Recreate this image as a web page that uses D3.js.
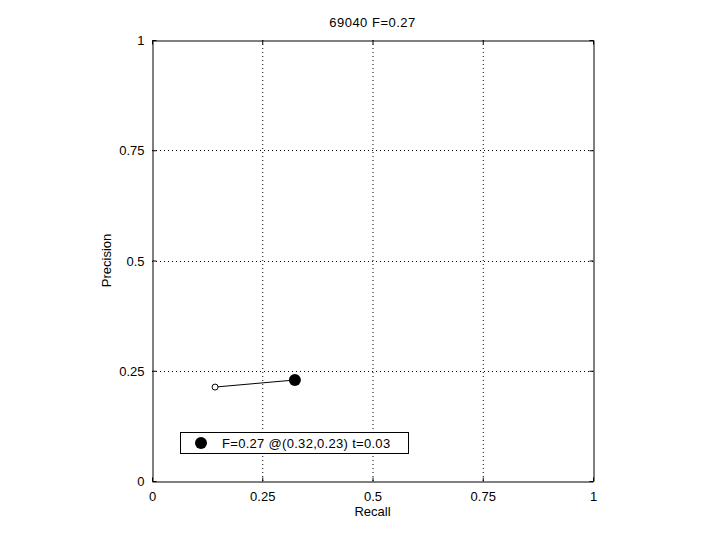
<!DOCTYPE html>
<html><head><meta charset="utf-8">
<script src="https://cdn.jsdelivr.net/npm/d3@7"></script>
<style>body{margin:0;background:#fff}text{font-family:"Liberation Sans",Arial,sans-serif;font-size:13px;fill:#000}</style>
</head><body><svg id="c" width="720" height="540"></svg>
<script>
const titleText = "69040 F=0.27";
const xLabel = "Recall", yLabel = "Precision";
const tickValues = [0, 0.25, 0.5, 0.75, 1];
const tickLabels = ["0", "0.25", "0.5", "0.75", "1"];
const curveRecall = [0.143, 0.324];
const curvePrecision = [0.213, 0.229];
const bestPoint = {r: 0.324, p: 0.229};
const legendText = "F=0.27 @(0.32,0.23) t=0.03";

const svg = d3.select("#c");
svg.append("rect").attr("width",720).attr("height",540).attr("fill","#fff");
const L=152, R=593, T=40, B=481;
const x = d3.scaleLinear().domain([0,1]).range([L,R]);
const y = d3.scaleLinear().domain([0,1]).range([B,T]);

// grid
const g = svg.append("g").attr("stroke","#000").attr("stroke-width",1).attr("stroke-dasharray","1,3");
tickValues.slice(1,-1).forEach(v=>{
  g.append("line").attr("x1",x(v)+0.5).attr("x2",x(v)+0.5).attr("y1",T).attr("y2",B);
  g.append("line").attr("y1",Math.round(y(v))+0.5).attr("y2",Math.round(y(v))+0.5).attr("x1",L).attr("x2",R);
});

// axes
const fmt = (d)=>tickLabels[tickValues.indexOf(d)];
const ax = svg.append("g").attr("transform",`translate(0,${B+0.5})`)
  .call(d3.axisBottom(x).tickValues(tickValues).tickFormat(fmt).tickSizeInner(-4).tickSizeOuter(0).tickPadding(10));
const ay = svg.append("g").attr("transform",`translate(${L+0.5},0)`)
  .call(d3.axisLeft(y).tickValues(tickValues).tickFormat(fmt).tickSizeInner(-4).tickSizeOuter(0).tickPadding(8));
const axTop = svg.append("g").attr("transform",`translate(0,${T+0.5})`)
  .call(d3.axisTop(x).tickValues(tickValues).tickFormat("").tickSizeInner(-4).tickSizeOuter(0));
const ayR = svg.append("g").attr("transform",`translate(${R+0.5},0)`)
  .call(d3.axisRight(y).tickValues(tickValues).tickFormat("").tickSizeInner(-4).tickSizeOuter(0));
[ax,ay,axTop,ayR].forEach(a=>{
  a.selectAll("path").attr("stroke","#000");
  a.selectAll("line").attr("stroke","#000");
  a.selectAll("text").style("font-size","13px").style("font-family","'Liberation Sans',Arial,sans-serif").attr("fill","#000");
});
ay.selectAll("text").attr("dy","0.35em");

// title and labels
svg.append("text").attr("x",(L+R)/2).attr("y",27).attr("text-anchor","middle").attr("letter-spacing","0.5").text(titleText);
svg.append("text").attr("x",(L+R)/2).attr("y",516).attr("text-anchor","middle").text(xLabel);
svg.append("text").attr("transform",`translate(111,${(T+B)/2}) rotate(-90)`).attr("text-anchor","middle").text(yLabel);

// curve
const line = d3.line().x(d=>x(d[0])).y(d=>y(d[1]));
const pts = curveRecall.map((r,i)=>[r,curvePrecision[i]]);
svg.append("path").attr("d",line(pts)).attr("fill","none").attr("stroke","#000").attr("stroke-width",1);
svg.append("circle").attr("cx",x(curveRecall[0])).attr("cy",y(curvePrecision[0])).attr("r",3).attr("fill","#fff").attr("stroke","#000");
svg.append("circle").attr("cx",x(bestPoint.r)).attr("cy",y(bestPoint.p)).attr("r",6).attr("fill","#000");

// legend
svg.append("rect").attr("x",180.5).attr("y",432.5).attr("width",228).attr("height",21).attr("fill","#fff").attr("stroke","#000");
svg.append("circle").attr("cx",201).attr("cy",443).attr("r",6).attr("fill","#000");
svg.append("text").attr("x",222).attr("y",448).attr("letter-spacing","0.3").text(legendText);
</script></body></html>
